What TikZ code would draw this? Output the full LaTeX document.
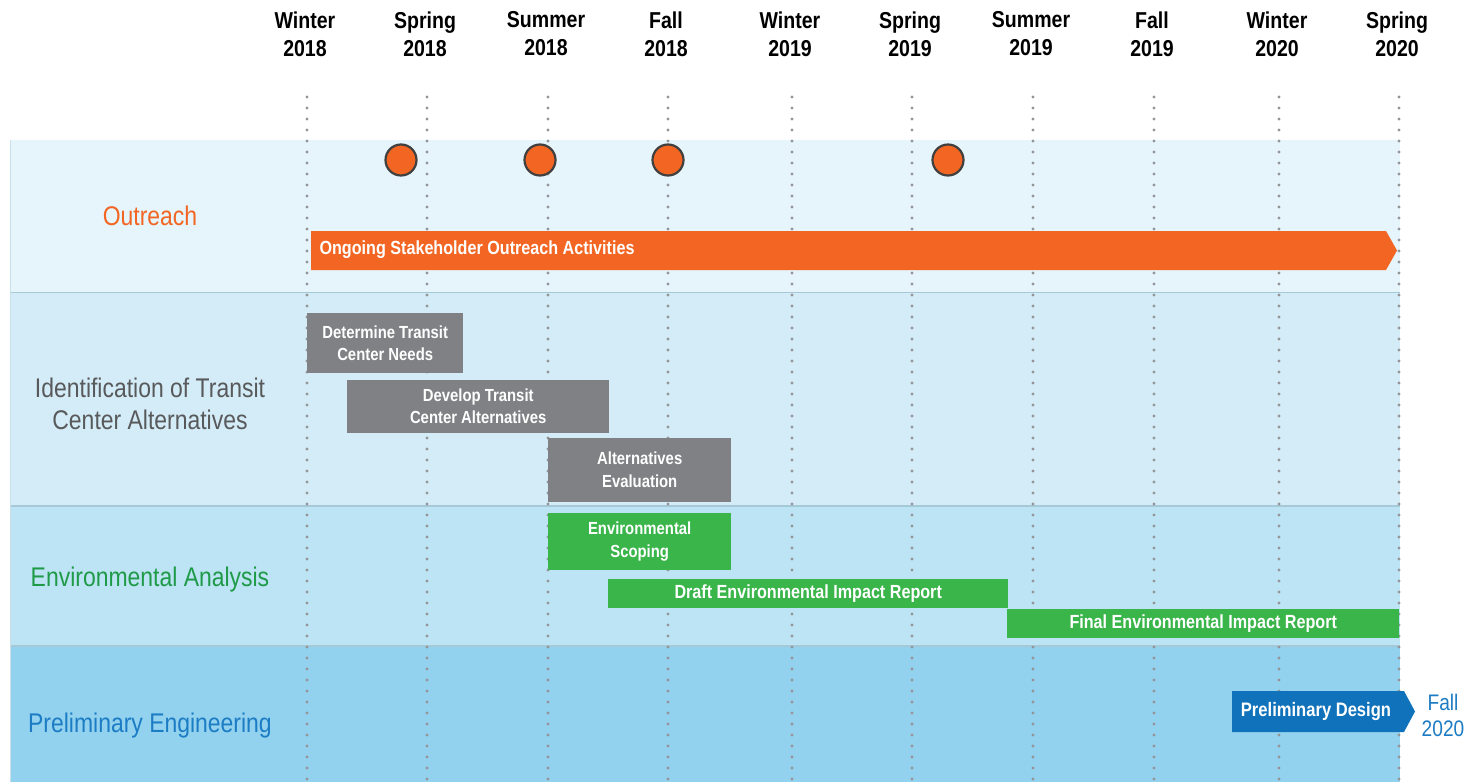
\documentclass[tikz,border=0pt]{standalone}
\usepackage{fontspec}
\setmainfont{Liberation Sans}[FakeStretch=0.85]
\definecolor{bandA}{HTML}{E6F4FB}
\definecolor{bandB}{HTML}{D4ECF7}
\definecolor{bandC}{HTML}{BDE4F4}
\definecolor{bandD}{HTML}{92D2EE}
\definecolor{sepline}{HTML}{A6C9D8}
\definecolor{dotgray}{HTML}{939598}
\definecolor{orng}{HTML}{F26522}
\definecolor{gbox}{HTML}{808184}
\definecolor{gtxt}{HTML}{58595B}
\definecolor{grn}{HTML}{3AB54A}
\definecolor{grntxt}{HTML}{1E9A48}
\definecolor{blu}{HTML}{1072BA}
\definecolor{blutxt}{HTML}{1C7CC4}
\tikzset{
  hdr/.style={font=\fontsize{23}{28}\selectfont\bfseries, align=center, text=black},
  rowlab/.style={font=\fontsize{27}{32}\selectfont, align=center},
  tl/.style={dotgray, line width=3.2pt, line cap=round, dash pattern=on 0pt off 11pt},
  taskbox/.style={draw=none, fill=#1, text=white, font=\fontsize{17.5}{22}\selectfont\bfseries, align=center},
  barbox/.style={draw=none, fill=#1, text=white, font=\fontsize{19}{22}\selectfont\bfseries, align=center},
  mile/.style={circle, fill=orng, draw={black!75}, line width=2.2pt, minimum size=31pt, inner sep=0pt},
}
\begin{document}
\begin{tikzpicture}[x=1pt,y=-1pt]
\useasboundingbox (0,0) rectangle (1470,782);
\fill[white] (0,0) rectangle (1470,782);
% bands
\fill[bandA] (10,140) rectangle (1400,292);
\fill[bandB] (10,292) rectangle (1400,506);
\fill[bandC] (10,506) rectangle (1400,646);
\fill[bandD] (10,646) rectangle (1400,782);
\draw[sepline, line width=1pt] (10,292) -- (1400,292);
\draw[sepline, line width=1.5pt] (10,506) -- (1400,506);
\draw[sepline, line width=1.5pt] (10,646) -- (1400,646);
\draw[sepline!60, line width=0.8pt] (10,140) -- (10,782);
% headers and timeline lines
\foreach \x/\s/\y [count=\i] in {307/Winter/2018, 427/Spring/2018, 548/Summer/2018, 668/Fall/2018, 792/Winter/2019, 912/Spring/2019, 1033/Summer/2019, 1154/Fall/2019, 1279/Winter/2020, 1399/Spring/2020}{
  \node[hdr] (h\i) at (\x-2,34) {\s\\\y};
  \coordinate (t\i) at (\x,97);
  \coordinate (b\i) at (\x,782);
  \draw[tl] (t\i) -- (b\i);
}
% row labels
\node[rowlab, text=orng] (lo) at (150,216) {Outreach};
\node[rowlab, text=gtxt] (li) at (150,404) {Identification of Transit\\Center Alternatives};
\node[rowlab, text=grntxt] (le) at (150,580) {Environmental Analysis};
\node[rowlab, text=blutxt] (lp) at (150,726) {Preliminary Engineering};
% milestones
\node[mile] (m1) at (401,160) {};
\node[mile] (m2) at (540,160) {};
\node[mile] (m3) at (668,160) {};
\node[mile] (m4) at (948,160) {};
% outreach arrow
\fill[orng] (311,231) -- (1386,231) -- (1397,250.5) -- (1386,270) -- (311,270) -- cycle;
\node[anchor=west, text=white, font=\fontsize{19}{22}\selectfont\bfseries] (oa) at (316,250) {Ongoing Stakeholder Outreach Activities};
% gray tasks
\node[taskbox=gbox, minimum width=156pt, minimum height=60pt, anchor=north west] (g1) at (307,313) {Determine Transit\\Center Needs};
\node[taskbox=gbox, minimum width=262pt, minimum height=53pt, anchor=north west] (g2) at (347,380) {Develop Transit\\Center Alternatives};
\node[taskbox=gbox, minimum width=183pt, minimum height=64pt, anchor=north west, font=\fontsize{17.5}{23}\selectfont\bfseries] (g3) at (548,438) {Alternatives\\Evaluation};
% green tasks
\node[taskbox=grn, minimum width=183pt, minimum height=57pt, anchor=north west, font=\fontsize{17.5}{23}\selectfont\bfseries] (e1) at (548,513) {Environmental\\Scoping};
\node[barbox=grn, minimum width=400pt, minimum height=29pt, anchor=north west] (e2) at (608,579) {Draft Environmental Impact Report};
\node[barbox=grn, minimum width=392pt, minimum height=29pt, anchor=north west] (e3) at (1007,609) {Final Environmental Impact Report};
% preliminary design arrow
\fill[blu] (1232,691) -- (1404,691) -- (1415,711.5) -- (1404,732) -- (1232,732) -- cycle;
\node[text=white, font=\fontsize{19.5}{22}\selectfont\bfseries] (pd) at (1316,711.5) {Preliminary Design};
\node[text=blutxt, font=\fontsize{22.5}{26}\selectfont, align=center] (f20) at (1443,715) {Fall\\2020};
\end{tikzpicture}
\end{document}
